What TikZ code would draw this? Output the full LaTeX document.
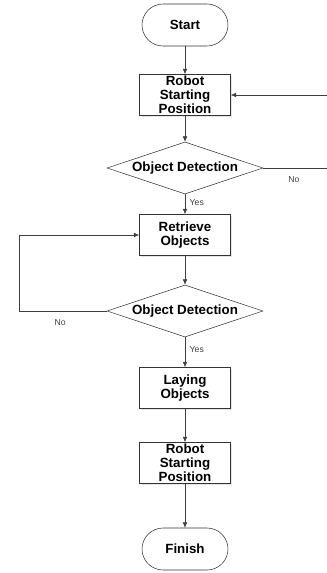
\documentclass[tikz,border=0pt]{standalone}
\usepackage{fontspec}
\setmainfont{Liberation Sans}
\usetikzlibrary{shapes.geometric,arrows.meta,shadows}

\begin{document}
\begin{tikzpicture}[x=0.75pt,y=-0.75pt,
    every node/.style={font=\bfseries\fontsize{10}{10.5}\selectfont, align=center},
    terminal/.style={draw=black!80, rounded corners=15.75pt, minimum width=64.5pt, minimum height=31.5pt},
    stepbox/.style={draw=black!80, fill=white, minimum width=68.25pt, minimum height=30.75pt, inner sep=0pt,
      drop shadow={opacity=0.2, shadow xshift=1pt, shadow yshift=-1pt}},
    decision/.style={draw=black!80, diamond, aspect=3, inner sep=0pt, minimum width=117pt, minimum height=39pt},
    flow/.style={draw=black!75, -{Latex[length=4pt,width=3.5pt]}},
    lbl/.style={font=\fontsize{6.5}{7}\selectfont, text=black!75}]
    \useasboundingbox (0,0) rectangle (326,573);
    % Flow chart nodes
    \node[terminal] (start) at (185,25) {Start};
    \node[stepbox] (pos1) at (185,95) {Robot\\Starting\\Position};
    \node[decision] (det1) at (185,168) {Object Detection};
    \node[stepbox] (retr) at (185,235) {Retrieve\\Objects};
    \node[decision] (det2) at (185,311) {Object Detection};
    \node[stepbox] (lay) at (185,388) {Laying\\Objects};
    \node[stepbox] (pos2) at (185,463) {Robot\\Starting\\Position};
    \node[terminal] (finish) at (185,549) {Finish};
    % Loop ends
    \coordinate (outR) at (340,168);
    \coordinate (outL) at (19,311);
    % Main line
    \draw[flow] (start) -- (pos1);
    \draw[flow] (pos1) -- (det1);
    \draw[flow] (det1) -- node[lbl, right, pos=0.4] {Yes} (retr);
    \draw[flow] (retr) -- (det2);
    \draw[flow] (det2) -- node[lbl, right, pos=0.4] {Yes} (lay);
    \draw[flow] (lay) -- (pos2);
    \draw[flow] (pos2) -- (finish);
    % No branches
    \draw[flow] (det1.east) -- node[lbl, below=3pt, pos=0.4] {No} (outR) |- (pos1.east);
    \draw[flow] (det2.west) -- node[lbl, below=3pt, pos=0.53] {No} (outL) |- (retr.west);
\end{tikzpicture}
\end{document}
